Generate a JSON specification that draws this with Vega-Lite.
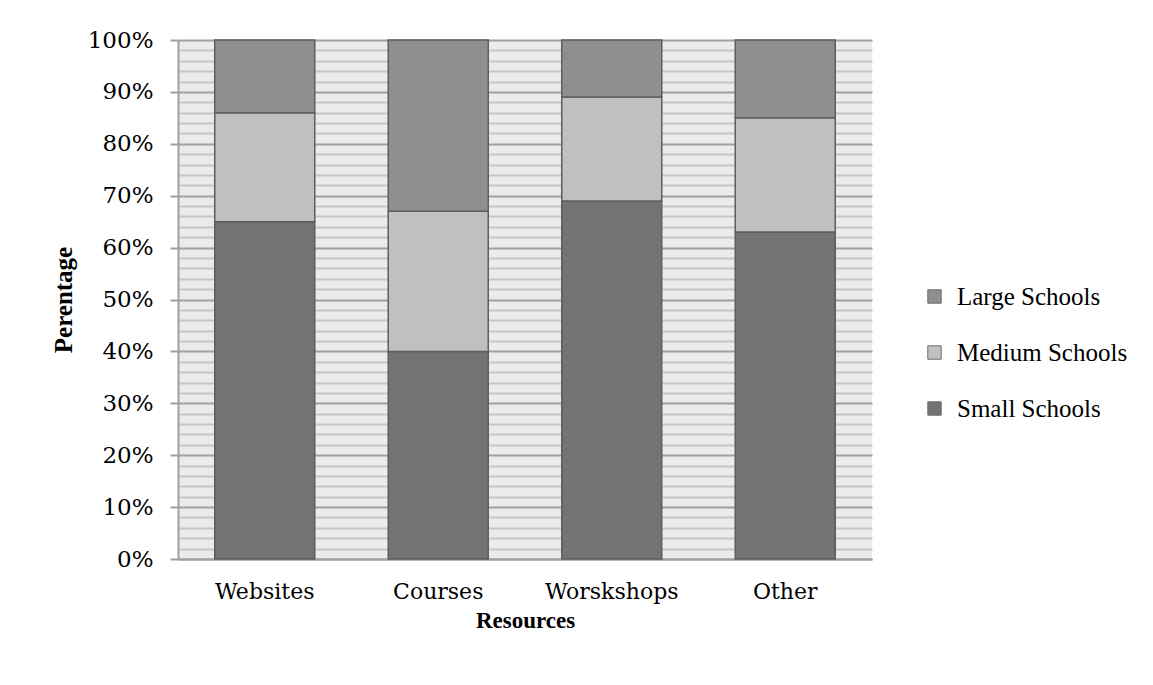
{
  "$schema": "https://vega.github.io/schema/vega-lite/v6.json",
  "autosize": {"type": "none"},
  "padding": {"left": 178, "top": 40, "right": 281, "bottom": 126},
  "width": 694,
  "height": 519,
  "background": "white",
  "config": {
    "view": {"fill": "#ebebeb", "stroke": null},
    "font": "Liberation Serif"
  },
  "data": {
    "values": [
      {"resource": "Websites", "size": "Small Schools", "rank": 1, "value": 65},
      {"resource": "Websites", "size": "Medium Schools", "rank": 2, "value": 21},
      {"resource": "Websites", "size": "Large Schools", "rank": 3, "value": 14},
      {"resource": "Courses", "size": "Small Schools", "rank": 1, "value": 40},
      {"resource": "Courses", "size": "Medium Schools", "rank": 2, "value": 27},
      {"resource": "Courses", "size": "Large Schools", "rank": 3, "value": 33},
      {"resource": "Worskshops", "size": "Small Schools", "rank": 1, "value": 69},
      {"resource": "Worskshops", "size": "Medium Schools", "rank": 2, "value": 20},
      {"resource": "Worskshops", "size": "Large Schools", "rank": 3, "value": 11},
      {"resource": "Other", "size": "Small Schools", "rank": 1, "value": 63},
      {"resource": "Other", "size": "Medium Schools", "rank": 2, "value": 22},
      {"resource": "Other", "size": "Large Schools", "rank": 3, "value": 15}
    ]
  },
  "mark": {"type": "bar", "stroke": "#5e5e5e", "strokeWidth": 1.5},
  "encoding": {
    "x": {
      "field": "resource",
      "type": "nominal",
      "sort": ["Websites", "Courses", "Worskshops", "Other"],
      "scale": {"paddingInner": 0.4236, "paddingOuter": 0.2118},
      "axis": {
        "title": "Resources",
        "titleFont": "Liberation Serif",
        "titleFontSize": 23,
        "titleFontWeight": "bold",
        "titleColor": "black",
        "titleBaseline": "alphabetic",
        "titleY": 68,
        "labelAngle": 0,
        "labelFont": "DejaVu Serif",
        "labelFontSize": 22,
        "labelColor": "black",
        "labelPadding": 22,
        "ticks": false,
        "domainColor": "#a0a0a0",
        "domainWidth": 2
      }
    },
    "y": {
      "field": "value",
      "type": "quantitative",
      "stack": "normalize",
      "scale": {"domain": [0, 1]},
      "axis": {
        "title": "Perentage",
        "titleFont": "Liberation Serif",
        "titleFontSize": 25,
        "titleFontWeight": "bold",
        "titleColor": "black",
        "titleBaseline": "alphabetic",
        "titleX": -107,
        "titleY": 259.5,
        "titleAngle": -90,
        "values": [0, 0.02, 0.04, 0.06, 0.08, 0.1, 0.12, 0.14, 0.16, 0.18, 0.2, 0.22, 0.24, 0.26, 0.28, 0.3, 0.32, 0.34, 0.36, 0.38, 0.4, 0.42, 0.44, 0.46, 0.48, 0.5, 0.52, 0.54, 0.56, 0.58, 0.6, 0.62, 0.64, 0.66, 0.68, 0.7, 0.72, 0.74, 0.76, 0.78, 0.8, 0.82, 0.84, 0.86, 0.88, 0.9, 0.92, 0.94, 0.96, 0.98, 1],
        "format": ".0%",
        "labelExpr": "abs(round(datum.value*10) - datum.value*10) < 0.001 ? datum.label : ''",
        "labelOverlap": false,
        "labelBound": false,
        "labelFont": "DejaVu Serif",
        "labelFontSize": 23,
        "labelColor": "black",
        "labelPadding": 17,
        "tickSize": 8,
        "tickWidth": 2,
        "tickColor": "#a0a0a0",
        "tickOpacity": {"condition": {"test": "abs(round(datum.value*10) - datum.value*10) < 0.001", "value": 1}, "value": 0},
        "domainColor": "#a0a0a0",
        "domainWidth": 2,
        "grid": true,
        "gridWidth": 2,
        "gridColor": {"condition": {"test": "abs(round(datum.value*10) - datum.value*10) < 0.001", "value": "#a0a0a0"}, "value": "#c6c6c6"}
      }
    },
    "color": {
      "field": "size",
      "type": "nominal",
      "scale": {
        "domain": ["Large Schools", "Medium Schools", "Small Schools"],
        "range": ["#8f8f8f", "#c0c0c0", "#737373"]
      },
      "legend": {
        "title": null,
        "orient": "none",
        "legendX": 744,
        "legendY": 244,
        "padding": 0,
        "symbolType": "square",
        "symbolSize": 180,
        "symbolStrokeColor": "#6e6e6e",
        "symbolStrokeWidth": 1,
        "labelFont": "Liberation Serif",
        "labelFontSize": 25,
        "labelColor": "black",
        "labelOffset": 10,
        "labelLimit": 300,
        "rowPadding": 30
      }
    },
    "order": {"field": "rank", "type": "quantitative", "sort": "ascending"}
  }
}
